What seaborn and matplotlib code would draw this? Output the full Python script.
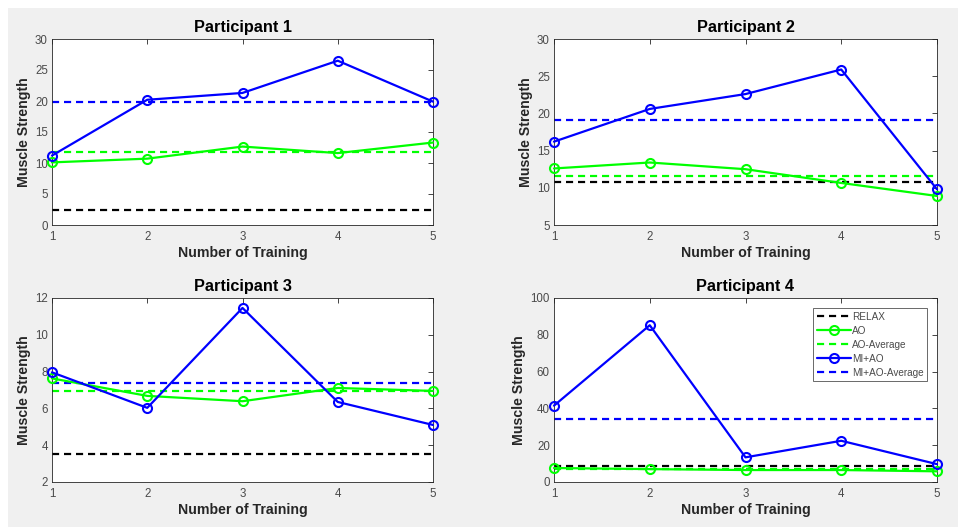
import matplotlib
matplotlib.use("Agg")
import matplotlib.pyplot as plt
import seaborn as sns
import pandas as pd
from matplotlib.patches import Rectangle

sns.set_style("white")
plt.rcParams['font.family'] = ['Liberation Sans', 'DejaVu Sans']

trainings = [1, 2, 3, 4, 5]
titles = ["Participant 1", "Participant 2", "Participant 3", "Participant 4"]

ao_p1 = [10.1, 10.7, 12.65, 11.6, 13.3]
mi_p1 = [11.2, 20.2, 21.3, 26.5, 19.9]
ao_p2 = [12.6, 13.4, 12.5, 10.65, 8.9]
mi_p2 = [16.2, 20.6, 22.6, 25.9, 9.8]
ao_p3 = [7.63, 6.68, 6.39, 7.11, 6.95]
mi_p3 = [7.96, 6.03, 11.46, 6.35, 5.1]
ao_p4 = [7.6, 7.0, 6.5, 6.5, 5.8]
mi_p4 = [41.5, 85.2, 13.4, 22.4, 9.7]

relax_levels = [2.5, 10.8, 3.53, 8.8]
ao_avg = [11.7, 11.64, 6.95, 7.0]
mi_avg = [19.85, 19.05, 7.40, 34.3]

ylims = [(0, 30), (5, 30), (2, 12), (0, 100)]
yticks = [[0, 5, 10, 15, 20, 25, 30], [5, 10, 15, 20, 25, 30],
          [2, 4, 6, 8, 10, 12], [0, 20, 40, 60, 80, 100]]

ao_all = [ao_p1, ao_p2, ao_p3, ao_p4]
mi_all = [mi_p1, mi_p2, mi_p3, mi_p4]

W, H = 961, 527
fig = plt.figure(figsize=(W / 100, H / 100), dpi=100, facecolor="white")
fig.patches.append(Rectangle((8 / W, 0), (958 - 8) / W, (H - 8) / H,
                             transform=fig.transFigure, facecolor="#f0f0f0",
                             edgecolor="none", zorder=-10))

boxes = [(52, 39, 433, 225), (554, 39, 937, 225),
         (52, 298, 433, 482), (554, 298, 937, 482)]

GREEN = (0, 1, 0)
BLUE = (0, 0, 1)
axcol = "#262626"
tickcol = "#4a4a4a"
DASH = (0, (3.2, 2.2))

for i in range(4):
    l, t, r, b = boxes[i]
    ax = fig.add_axes([l / W, 1 - b / H, (r - l) / W, (b - t) / H])
    ax.set_facecolor("white")
    ax.axhline(relax_levels[i], color="black", ls=DASH, lw=1.6, label="RELAX")
    df_ao = pd.DataFrame({"x": trainings, "y": ao_all[i]})
    df_mi = pd.DataFrame({"x": trainings, "y": mi_all[i]})
    sns.lineplot(data=df_ao, x="x", y="y", ax=ax, color=GREEN, lw=1.6,
                 marker="o", markersize=6.5, markerfacecolor="none",
                 markeredgecolor=GREEN, markeredgewidth=1.5, label="AO",
                 clip_on=False, zorder=3)
    ax.axhline(ao_avg[i], color=GREEN, ls=DASH, lw=1.6, label="AO-Average")
    sns.lineplot(data=df_mi, x="x", y="y", ax=ax, color=BLUE, lw=1.6,
                 marker="o", markersize=6.5, markerfacecolor="none",
                 markeredgecolor=BLUE, markeredgewidth=1.5, label="MI+AO",
                 clip_on=False, zorder=4)
    ax.axhline(mi_avg[i], color=BLUE, ls=DASH, lw=1.6, label="MI+AO-Average")

    ax.set_xlim(1, 5)
    ax.set_ylim(*ylims[i])
    ax.set_xticks(trainings)
    ax.set_yticks(yticks[i])
    ax.tick_params(direction="in", top=True, right=True, length=3.5, width=0.6,
                   labelsize=8.3, color=axcol, labelcolor=tickcol)
    ax.tick_params(axis="x", pad=4.5)
    ax.tick_params(axis="y", pad=3)
    for s in ax.spines.values():
        s.set_color(axcol)
        s.set_linewidth(0.6)
    ax.set_title(titles[i], fontsize=11.7, fontweight="bold", color="black", pad=5)
    ax.set_xlabel("Number of Training", fontsize=10.2, fontweight="bold", color=axcol, labelpad=2)
    ax.set_ylabel("Muscle Strength", fontsize=10.2, fontweight="bold", color=axcol, labelpad=3)
    if i == 3:
        leg = ax.legend(loc="upper right", fontsize=7.2, frameon=True, fancybox=False,
                        handlelength=3.4, handletextpad=0.1, borderpad=0.35,
                        labelspacing=0.4, borderaxespad=1.0)
        leg.get_frame().set_edgecolor(axcol)
        leg.get_frame().set_linewidth(0.6)
        for txt in leg.get_texts():
            txt.set_color(tickcol)
    else:
        lg = ax.get_legend()
        if lg is not None:
            lg.remove()

fig.savefig("out.png", dpi=100, facecolor=fig.get_facecolor())
